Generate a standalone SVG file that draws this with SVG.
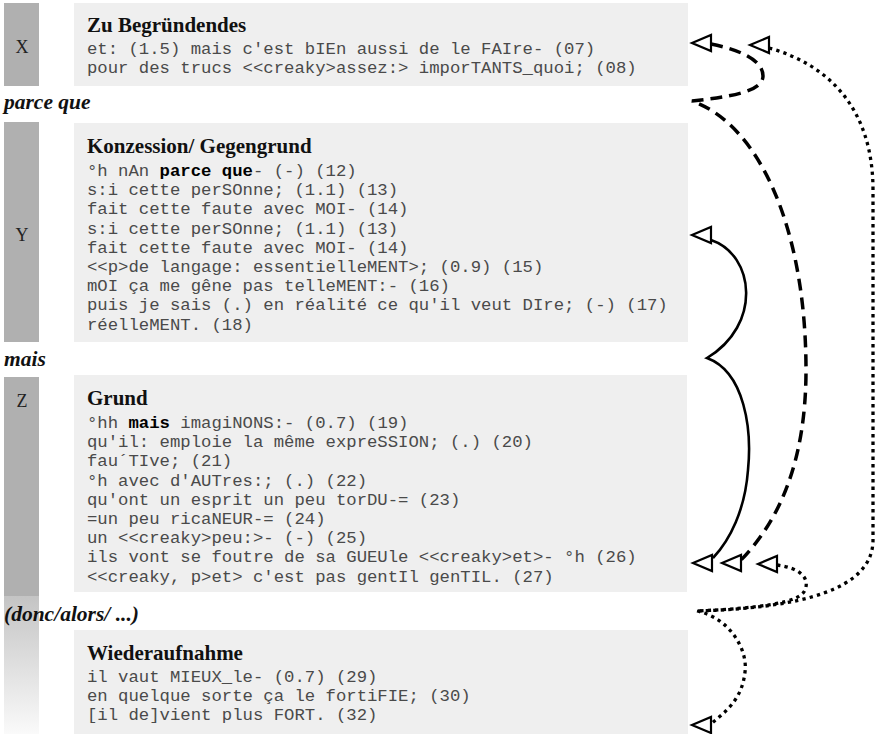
<svg xmlns="http://www.w3.org/2000/svg" width="875" height="734" viewBox="0 0 875 734">
<defs>
<style>
.lab{fill:#b0b0b0}
.box{fill:#efefef}
.let{font-family:"Liberation Serif","DejaVu Serif",serif;font-size:18px;fill:#222;text-anchor:middle}
.hd{font-family:"Liberation Serif","DejaVu Serif",serif;font-size:21px;font-weight:bold;fill:#111}
.conj{font-family:"Liberation Serif","DejaVu Serif",serif;font-size:21.5px;font-weight:bold;font-style:italic;fill:#111}
.m{font-family:"Liberation Mono","Courier New",monospace;font-size:17.3px;fill:#4a4a4a}
.b{font-weight:bold;fill:#000}
.ln{fill:none;stroke:#000}
.solid{stroke-width:2.6}
.dash{stroke-width:3.5;stroke-dasharray:12 7}
.dot{stroke-width:3.3;stroke-dasharray:3.3 4.2}
.ah{fill:#fff;stroke:#000;stroke-width:2.2;stroke-linejoin:miter}
</style>
<linearGradient id="fade" x1="0" y1="0" x2="0" y2="1">
<stop offset="0" stop-color="#c4c4c4"/>
<stop offset="1" stop-color="#fafafa"/>
</linearGradient>
<path id="ah" d="M0,0 L19,-8 L19,8 Z"/>
</defs>

<g id="nodeX">
<rect class="lab" x="4" y="3" width="35" height="83"/>
<text class="let" x="22" y="53">X</text>
<rect class="box" x="74" y="3" width="614" height="83"/>
<text class="hd" x="87" y="32">Zu Begründendes</text>
<text class="m" x="87" y="54">et: (1.5) mais c'est bIEn aussi de le FAIre- (07)</text>
<text class="m" x="87" y="73">pour des trucs &lt;&lt;creaky&gt;assez:&gt; imporTANTS_quoi; (08)</text>
</g>

<g id="conj1"><text class="conj" x="4" y="109">parce que</text></g>

<g id="nodeY">
<rect class="lab" x="4" y="122" width="35" height="220"/>
<text class="let" x="22" y="241">Y</text>
<rect class="box" x="74" y="123" width="614" height="219"/>
<text class="hd" x="87" y="153">Konzession/ Gegengrund</text>
<text class="m" x="87" y="176" xml:space="preserve">°h nAn <tspan class="b">parce que</tspan>- (-) (12)</text>
<text class="m" x="87" y="195.2">s:i cette perSOnne; (1.1) (13)</text>
<text class="m" x="87" y="214.4">fait cette faute avec MOI- (14)</text>
<text class="m" x="87" y="233.6">s:i cette perSOnne; (1.1) (13)</text>
<text class="m" x="87" y="252.8">fait cette faute avec MOI- (14)</text>
<text class="m" x="87" y="272">&lt;&lt;p&gt;de langage: essentielleMENT&gt;; (0.9) (15)</text>
<text class="m" x="87" y="291.2">mOI ça me gêne pas telleMENT:- (16)</text>
<text class="m" x="87" y="310.4">puis je sais (.) en réalité ce qu'il veut DIre; (-) (17)</text>
<text class="m" x="87" y="329.6">réelleMENT. (18)</text>
</g>

<g id="conj2"><text class="conj" x="4" y="366">mais</text></g>

<g id="nodeZ">
<rect class="lab" x="4" y="377" width="35" height="219"/>
<text class="let" x="22" y="407">Z</text>
<rect class="box" x="74" y="375" width="613" height="217"/>
<text class="hd" x="87" y="405">Grund</text>
<text class="m" x="87" y="428" xml:space="preserve">°hh <tspan class="b">mais</tspan> imagiNONS:- (0.7) (19)</text>
<text class="m" x="87" y="447.2">qu'il: emploie la même expreSSION; (.) (20)</text>
<text class="m" x="87" y="466.4">fau´TIve; (21)</text>
<text class="m" x="87" y="485.6">°h avec d'AUTres:; (.) (22)</text>
<text class="m" x="87" y="504.8">qu'ont un esprit un peu torDU-= (23)</text>
<text class="m" x="87" y="524">=un peu ricaNEUR-= (24)</text>
<text class="m" x="87" y="543.2">un &lt;&lt;creaky&gt;peu:&gt;- (-) (25)</text>
<text class="m" x="87" y="562.4">ils vont se foutre de sa GUEUle &lt;&lt;creaky&gt;et&gt;- °h (26)</text>
<text class="m" x="87" y="581.6">&lt;&lt;creaky, p&gt;et&gt; c'est pas gentIl genTIL. (27)</text>
</g>

<g id="nodeW">
<rect x="4" y="596" width="35" height="138" fill="url(#fade)"/>
<rect class="box" x="74" y="630" width="614" height="104"/>
<text class="hd" x="87" y="660">Wiederaufnahme</text>
<text class="m" x="87" y="682">il vaut MIEUX_le- (0.7) (29)</text>
<text class="m" x="87" y="701">en quelque sorte ça le fortiFIE; (30)</text>
<text class="m" x="87" y="720">[il de]vient plus FORT. (32)</text>
</g>

<g id="conj3"><text class="conj" x="4" y="621">(donc/alors/ ...)</text></g>

<g id="connectors">
<path class="ln dash" d="M711,44 C740,50 763,60 763,76 C763,92 728,97 692,101 C760,125 806,230 806,370 C806,460 780,520 741,560"/>
<path class="ln solid" d="M711,240 C755,255 762,325 707,358 C745,372 752,430 748,470 C745,510 730,540 713,558"/>
<path class="ln dot" d="M769,48 C830,65 873,110 873,190 L873,540 C873,590 800,608 697,611"/>
<path class="ln dot" d="M777,565 C800,568 810,578 805,590 C800,603 760,608 697,611"/>
<path class="ln dot" d="M697,611 C730,618 748,650 745,672 C742,700 725,712 712,723"/>
<use href="#ah" class="ah" x="692" y="43"/>
<use href="#ah" class="ah" x="750" y="45"/>
<use href="#ah" class="ah" x="692" y="235"/>
<use href="#ah" class="ah" x="693" y="563"/>
<use href="#ah" class="ah" x="722" y="563"/>
<use href="#ah" class="ah" x="758" y="564"/>
<use href="#ah" class="ah" x="692" y="725"/>
</g>
</svg>
